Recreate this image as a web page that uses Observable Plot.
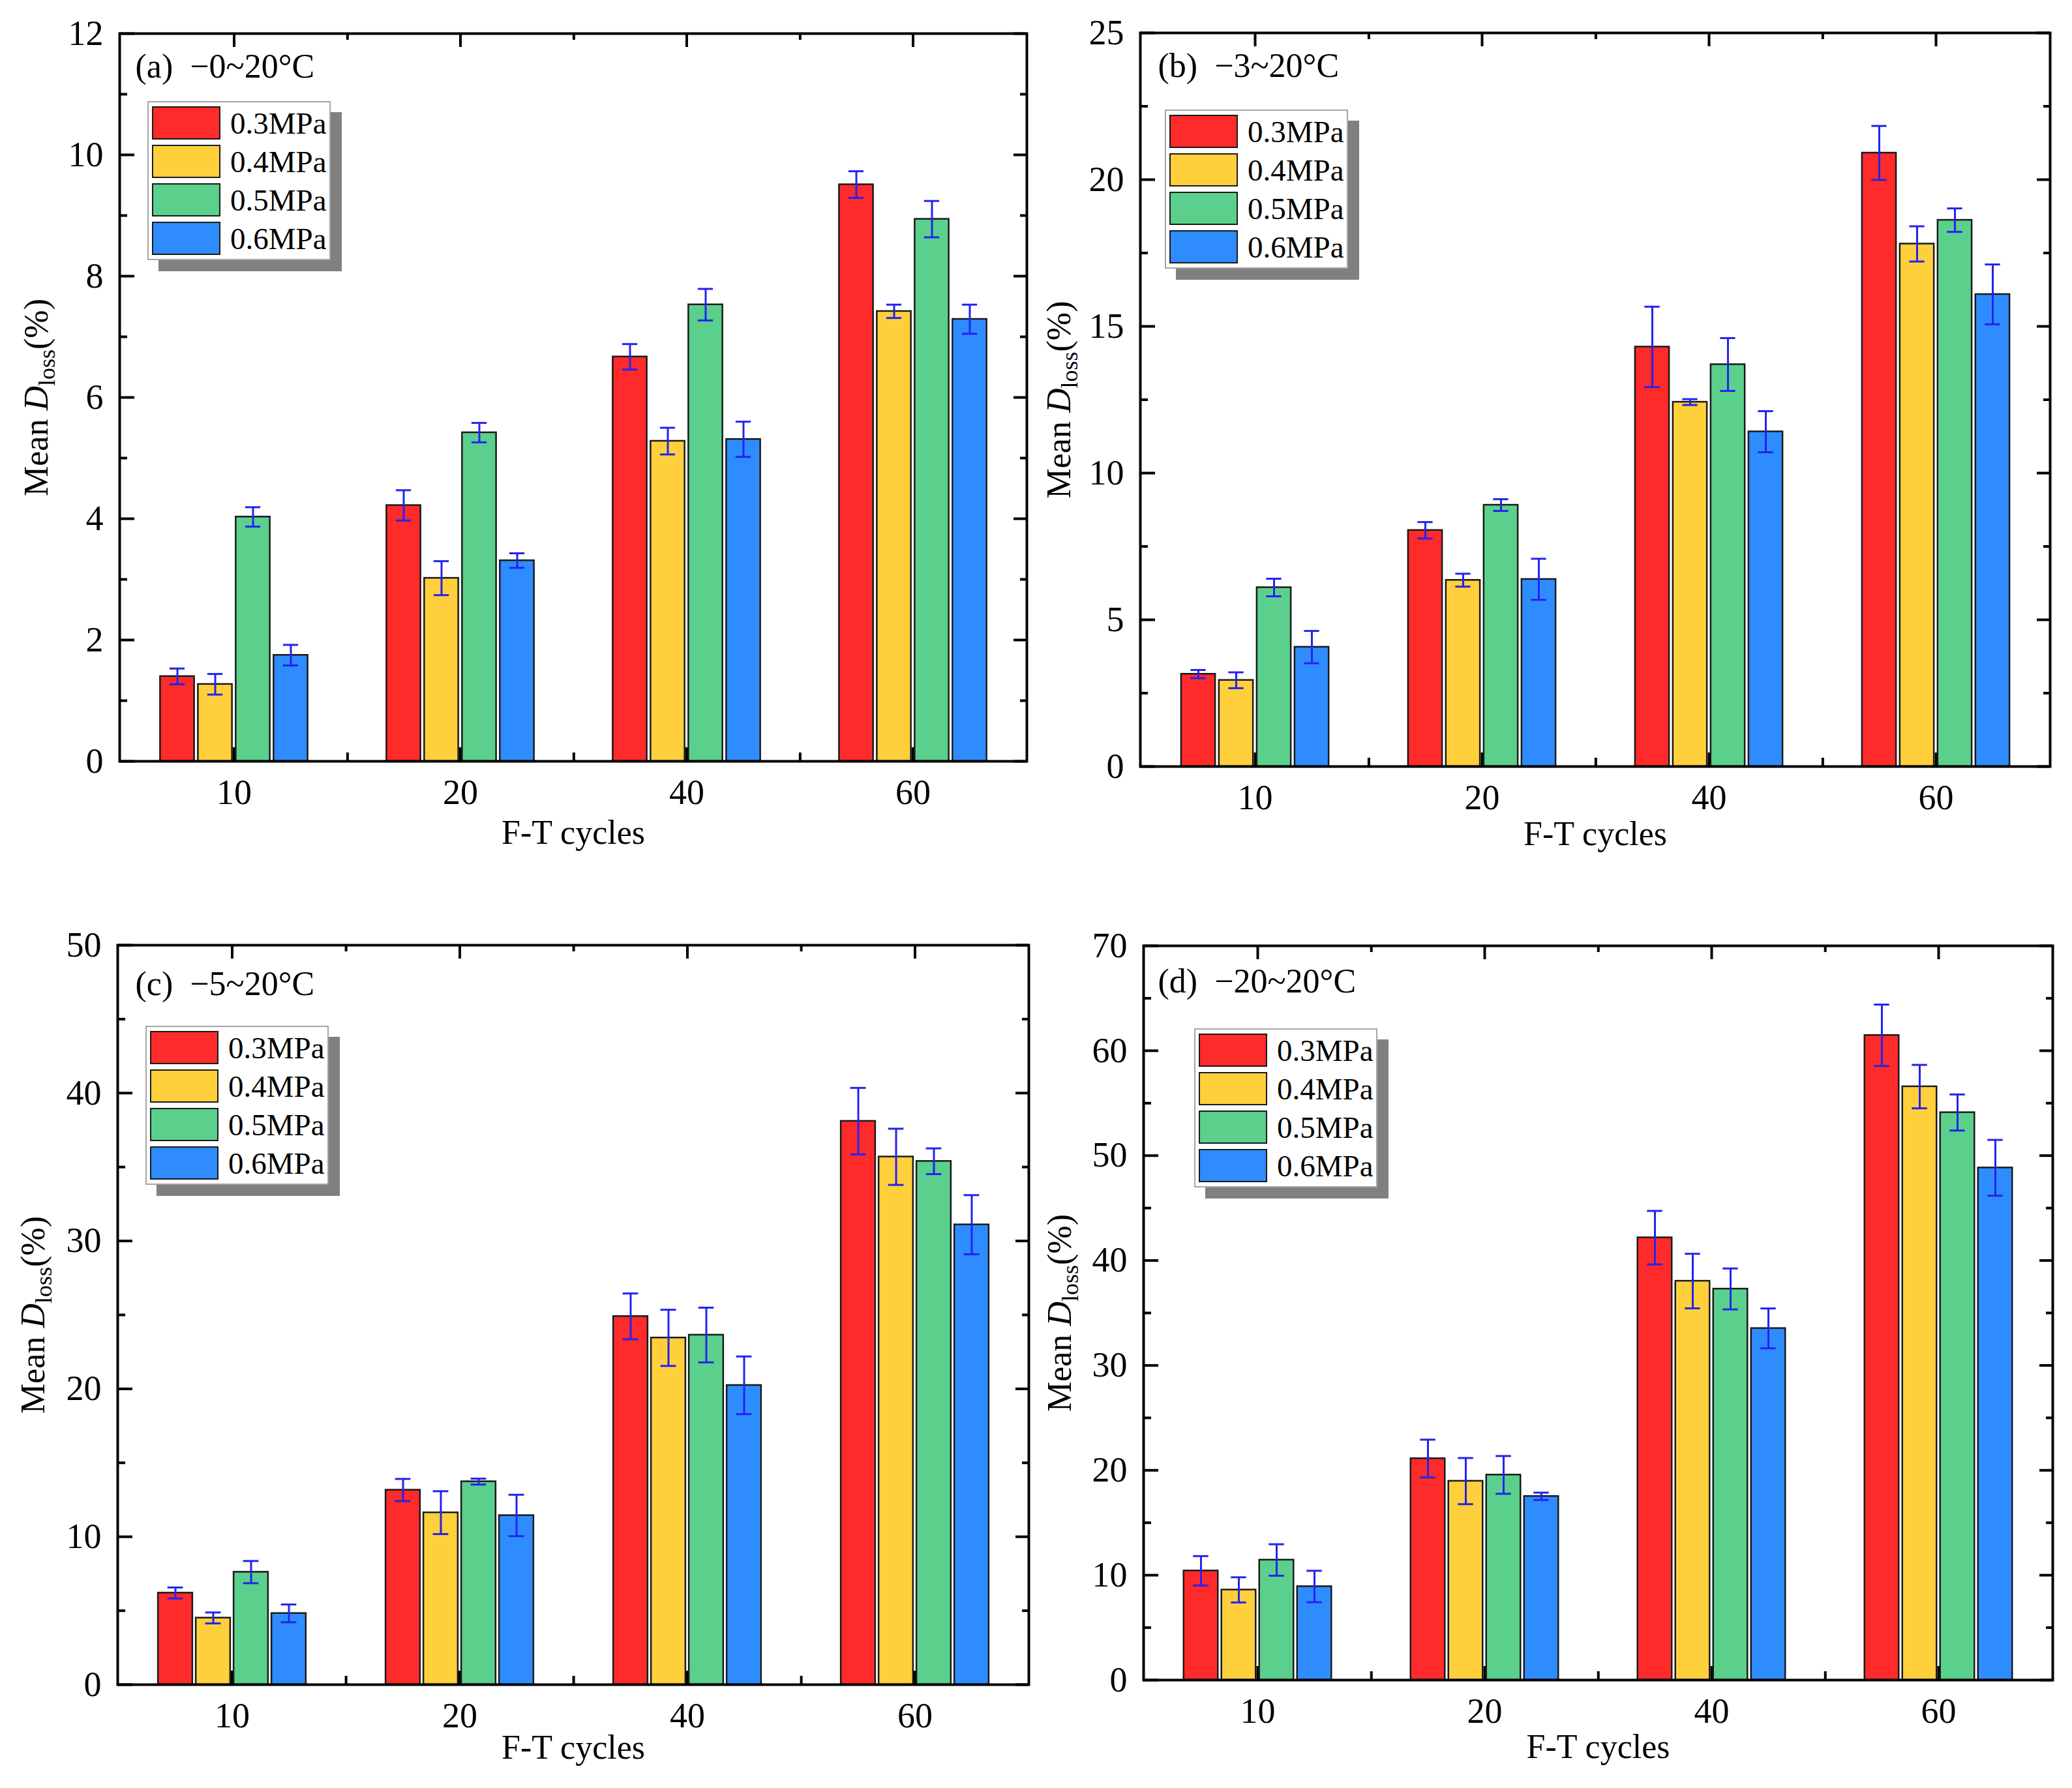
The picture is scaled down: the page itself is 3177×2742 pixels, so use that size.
<!DOCTYPE html>
<html>
<head>
<meta charset="utf-8">
<script src="https://cdn.jsdelivr.net/npm/d3@7"></script>
<script src="https://cdn.jsdelivr.net/npm/@observablehq/plot@0.6"></script>
<style>
  body { margin: 0; background: #fff; }
  #root { position: relative; width: 3177px; height: 2742px; background: #fff; font-family: "Liberation Serif", "Times New Roman", serif; }
  .panel { position: absolute; }
  .panel svg { background: transparent; }
  .legend { position: absolute; width: 277px; height: 240px; background: #fff; border: 2px solid #a6a6a6; box-shadow: 17px 17px 0 #808080; }
  .legend .sw { position: absolute; left: 5px; width: 101px; height: 47px; border: 2.5px solid #1a1a1a; }
  .legend .lb { position: absolute; left: 125px; font-size: 47px; line-height: 52px; color: #000; white-space: nowrap; }
</style>
</head>
<body>
<div id="root"></div>
<script>
// ---- data ----
const cycles = ["10", "20", "40", "60"];
const pressures = ["0.3MPa", "0.4MPa", "0.5MPa", "0.6MPa"];
const colors = ["#ff2a2a", "#ffd03c", "#5ad08c", "#2e8cff"];

// (a) −0~20°C : rows = pressures, columns = cycles
const meanA = [[1.40, 4.22, 6.67, 9.51], [1.27, 3.02, 5.28, 7.42], [4.03, 5.42, 7.53, 8.94], [1.75, 3.31, 5.31, 7.29]];
const errA  = [[0.13, 0.25, 0.21, 0.22], [0.17, 0.28, 0.22, 0.11], [0.16, 0.16, 0.26, 0.30], [0.17, 0.12, 0.29, 0.24]];
// (b) −3~20°C
const meanB = [[3.15, 8.05, 14.30, 20.91], [2.94, 6.35, 12.42, 17.81], [6.10, 8.91, 13.70, 18.62], [4.07, 6.38, 11.41, 16.09]];
const errB  = [[0.14, 0.28, 1.37, 0.92], [0.27, 0.22, 0.10, 0.60], [0.30, 0.20, 0.90, 0.40], [0.55, 0.70, 0.70, 1.02]];
// (c) −5~20°C
const meanC = [[6.20, 13.16, 24.90, 38.10], [4.51, 11.63, 23.45, 35.69], [7.61, 13.73, 23.64, 35.39], [4.82, 11.44, 20.24, 31.10]];
const errC  = [[0.37, 0.75, 1.55, 2.25], [0.37, 1.45, 1.90, 1.90], [0.75, 0.20, 1.85, 0.87], [0.60, 1.40, 1.95, 2.00]];
// (d) −20~20°C
const meanD = [[10.42, 21.12, 42.18, 61.47], [8.60, 18.97, 38.04, 56.58], [11.45, 19.56, 37.29, 54.11], [8.92, 17.52, 33.53, 48.84]];
const errD  = [[1.40, 1.80, 2.55, 2.93], [1.20, 2.20, 2.60, 2.07], [1.50, 1.80, 1.95, 1.72], [1.50, 0.35, 1.90, 2.66]];

const titles = ["(a)\u2002\u22120~20°C", "(b)\u2002\u22123~20°C", "(c)\u2002\u22125~20°C", "(d)\u2002\u221220~20°C"];
const yMaxes = [12, 25, 50, 70];
const ySteps = [2, 5, 10, 10];
const xLabel = "F-T cycles";
const yLabel = "Mean Dloss(%)";

// ---- layout (styles only) ----
const layouts = [
  {left: 0,    top: 0,    w: 1590, h: 1380, mL: 183, mR: 16, mT: 51, mB: 213, tdx: 24, tdy: 67, xdy: 110, ydx: -127, lg: [43, 104]},
  {left: 1590, top: 0,    w: 1587, h: 1380, mL: 158, mR: 34, mT: 50, mB: 205, tdx: 27, tdy: 67, xdy: 104, ydx: -124, lg: [38, 118]},
  {left: 0,    top: 1380, w: 1590, h: 1362, mL: 180, mR: 13, mT: 69, mB: 159, tdx: 27, tdy: 76, xdy: 97,  ydx: -129, lg: [43, 124]},
  {left: 1590, top: 1380, w: 1587, h: 1362, mL: 163, mR: 30, mT: 70, mB: 166, tdx: 22, tdy: 71, xdy: 103, ydx: -128, lg: [78, 127]}
];
const panelData = [[meanA, errA], [meanB, errB], [meanC, errC], [meanD, errD]];

const errColor = "#2323f0";
const root = document.getElementById("root");

panelData.forEach(([mean, err], k) => {
  const L = layouts[k];
  const plotW = L.w - L.mL - L.mR, plotH = L.h - L.mT - L.mB;
  const bw = plotW / cycles.length;
  const barW = 53, pitch = 58, capW = 24;
  const major = d3.range(0, yMaxes[k] + 1e-9, ySteps[k]);
  const minor = d3.range(ySteps[k] / 2, yMaxes[k], ySteps[k]);

  const rows = [];
  pressures.forEach((pr, i) => cycles.forEach((c, j) => {
    rows.push({cycle: c, pressure: pr, si: i, value: mean[i][j], lo: mean[i][j] - err[i][j], hi: mean[i][j] + err[i][j]});
  }));

  const marks = [
    // inward ticks, Origin style
    Plot.tickY(major, {y: d => d, stroke: "#000", strokeWidth: 4, insetRight: plotW - 23}),
    Plot.tickY(minor, {y: d => d, stroke: "#000", strokeWidth: 4, insetRight: plotW - 12}),
    Plot.tickY(major, {y: d => d, stroke: "#000", strokeWidth: 4, insetLeft: plotW - 20}),
    Plot.tickY(minor, {y: d => d, stroke: "#000", strokeWidth: 4, insetLeft: plotW - 10}),
    Plot.tickX(cycles, {x: d => d, stroke: "#000", strokeWidth: 4, insetBottom: plotH - 21}),
    Plot.tickX(cycles.slice(0, -1), {x: d => d, dx: bw / 2, stroke: "#000", strokeWidth: 4, insetBottom: plotH - 10}),
    Plot.tickX(cycles, {x: d => d, stroke: "#000", strokeWidth: 4, insetTop: plotH - 21}),
    Plot.tickX(cycles.slice(0, -1), {x: d => d, dx: bw / 2, stroke: "#000", strokeWidth: 4, insetTop: plotH - 13})
  ];
  pressures.forEach((pr, i) => {
    const off = (i - 1.5) * pitch;
    marks.push(Plot.barY(rows.filter(r => r.si === i), {
      x: "cycle", y: "value", fill: colors[i], stroke: "#1a1a1a", strokeWidth: 2.5,
      insetLeft: (bw - barW) / 2 + off, insetRight: (bw - barW) / 2 - off
    }));
  });
  pressures.forEach((pr, i) => {
    const off = (i - 1.5) * pitch;
    const sub = rows.filter(r => r.si === i);
    marks.push(Plot.ruleX(sub, {x: "cycle", y1: "lo", y2: "hi", dx: off, stroke: errColor, strokeWidth: 3}));
    marks.push(Plot.tickY(sub, {x: "cycle", y: "hi", stroke: errColor, strokeWidth: 3,
      insetLeft: (bw - capW) / 2 + off, insetRight: (bw - capW) / 2 - off}));
    marks.push(Plot.tickY(sub, {x: "cycle", y: "lo", stroke: errColor, strokeWidth: 3,
      insetLeft: (bw - capW) / 2 + off, insetRight: (bw - capW) / 2 - off}));
  });
  marks.push(Plot.frame({stroke: "#000", strokeWidth: 4}));
  marks.push(Plot.text([titles[k]], {frameAnchor: "top-left", textAnchor: "start", lineAnchor: "bottom",
    dx: L.tdx, dy: L.tdy, fontSize: 52, fill: "#000"}));
  marks.push(Plot.text([xLabel], {frameAnchor: "bottom", textAnchor: "middle", lineAnchor: "middle", dy: L.xdy, fontSize: 52, fill: "#000"}));
  marks.push(Plot.text([yLabel], {frameAnchor: "left", textAnchor: "middle", lineAnchor: "middle", rotate: -90, dx: L.ydx, fontSize: 52, fill: "#000"}));

  const svg = Plot.plot({
    width: L.w, height: L.h,
    marginLeft: L.mL, marginRight: L.mR, marginTop: L.mT, marginBottom: L.mB,
    style: {fontFamily: "'Liberation Serif', 'Times New Roman', serif", fontSize: "54px", color: "#000", background: "transparent"},
    x: {domain: cycles, padding: 0, tickSize: 0, tickPadding: 27, label: null},
    y: {domain: [0, yMaxes[k]], ticks: major, tickSize: 0, tickPadding: 25, label: null},
    marks
  });

  // rich y label: italic D with subscript "loss"
  d3.select(svg).selectAll("text").filter(function () { return this.textContent === yLabel; }).each(function () {
    const t = d3.select(this);
    t.text(null);
    t.append("tspan").text("Mean ");
    t.append("tspan").attr("font-style", "italic").text("D");
    t.append("tspan").attr("font-size", "36px").attr("dy", "11").text("loss");
    t.append("tspan").attr("dy", "-11").text("(%)");
  });

  const div = document.createElement("div");
  div.className = "panel";
  div.style.left = L.left + "px";
  div.style.top = L.top + "px";
  div.style.width = L.w + "px";
  div.style.height = L.h + "px";
  div.appendChild(svg);

  const lg = document.createElement("div");
  lg.className = "legend";
  lg.style.left = (L.mL + L.lg[0]) + "px";
  lg.style.top = (L.mT + L.lg[1]) + "px";
  pressures.forEach((pr, i) => {
    const sw = document.createElement("div");
    sw.className = "sw";
    sw.style.top = (6 + i * 59) + "px";
    sw.style.background = colors[i];
    lg.appendChild(sw);
    const lb = document.createElement("div");
    lb.className = "lb";
    lb.style.top = (6 + i * 59) + "px";
    lb.textContent = pr;
    lg.appendChild(lb);
  });
  div.appendChild(lg);
  root.appendChild(div);
});
</script>
</body>
</html>
